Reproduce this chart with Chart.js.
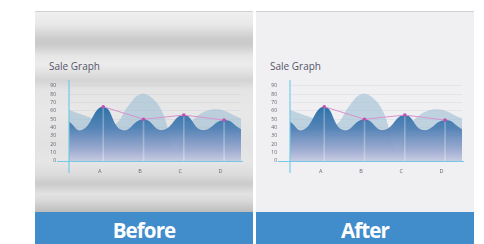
<!DOCTYPE html>
<html>
<head>
<meta charset="utf-8">
<script src="https://cdn.jsdelivr.net/npm/chart.js@4.4.1/dist/chart.umd.min.js"></script>
<style>
  html,body{margin:0;padding:0;background:#ffffff;}
  body{width:484px;height:244px;position:relative;overflow:hidden;font-family:"Open Sans","Noto Sans",sans-serif;}
  .panel{position:absolute;top:11px;width:218px;height:233px;border-top:1px solid #d2d2d6;box-sizing:border-box;overflow:hidden;}
  #p1{left:35px;background:linear-gradient(to bottom,#efefef 0px,#e9e9e9 12px,#cdcdcd 26px,#c9c9c9 32px,#e6e6e6 44px,#ececec 52px,#e2e2e2 60px,#d4d4d4 68px,#e4e4e4 78px,#e8e8e8 100px,#e2e2e2 130px,#e6e6e6 150px,#dcdcdc 162px,#cbcbcb 172px,#e2e2e2 182px,#d6d6d6 190px,#bdbdbd 200px);}
  #p2{left:256px;background:#f0f0f2;}
  .title{position:absolute;left:14px;top:48px;font-size:10px;line-height:12px;color:#555569;}
  .foot{position:absolute;left:0;bottom:0;width:100%;height:32px;background:#418dcc;color:#fff;font-weight:bold;font-size:20.5px;line-height:32px;text-align:center;letter-spacing:-0.9px;padding-top:2px;box-sizing:border-box;}
  .cw{position:absolute;left:0;top:67px;width:218px;height:102px;}
</style>
</head>
<body>
<div class="panel" id="p1">
  <div class="title">Sale Graph</div>
  <div class="cw"><canvas id="c1"></canvas></div>
  <div class="foot">Before</div>
</div>
<div class="panel" id="p2">
  <div class="title">Sale Graph</div>
  <div class="cw"><canvas id="c2"></canvas></div>
  <div class="foot">After</div>
</div>
<script>
// ---- data ----
const categories = ['A', 'B', 'C', 'D'];
const categoryX = [1, 2, 3, 4];
const yTicks = [0, 10, 20, 30, 40, 50, 60, 70, 80, 90];
const pointValues = [65, 50, 55, 49];
const waveX = [0.15, 0.47, 1, 1.47, 2, 2.47, 3, 3.46, 4, 4.42];
const waveY = [47, 37, 65, 37, 50, 37, 55, 37, 49, 38];
const backX = [0.15, 0.68, 1.0, 1.3, 1.62, 1.92, 2.22, 2.5, 2.79, 3.2, 3.78, 4.42];
const backY = [61, 52, 48, 44, 66, 80, 75, 55, 14, 48, 62, 51];

const toXY = (xs, ys) => xs.map((x, i) => ({x: x, y: ys[i]}));

const axisLines = {
  id: 'axisLines',
  afterDatasetsDraw(chart) {
    const {ctx, chartArea, scales} = chart;
    const y0 = scales.y.getPixelForValue(0);
    ctx.save();
    ctx.strokeStyle = 'rgba(110,200,230,0.95)';
    ctx.lineWidth = 1;
    ctx.beginPath();
    ctx.moveTo(chartArea.left - 12, y0 + 0.5);
    ctx.lineTo(chartArea.right + 2, y0 + 0.5);
    ctx.stroke();
    ctx.lineWidth = 1.2;
    ctx.beginPath();
    ctx.moveTo(chartArea.left, chartArea.top);
    ctx.lineTo(chartArea.left, y0 + 12);
    ctx.stroke();
    ctx.restore();
  }
};

function darkFill(context) {
  const chart = context.chart;
  const {chartArea} = chart;
  if (!chartArea) return 'rgba(60,120,175,0.9)';
  const g = chart.ctx.createLinearGradient(0, chartArea.top, 0, chartArea.bottom);
  g.addColorStop(0, 'rgba(20,92,148,0.95)');
  g.addColorStop(0.33, 'rgba(32,106,162,0.95)');
  g.addColorStop(0.6, 'rgba(78,126,180,0.93)');
  g.addColorStop(0.85, 'rgba(150,165,205,0.9)');
  g.addColorStop(1, 'rgba(200,202,226,0.9)');
  return g;
}

function makeChart(id) {
  new Chart(document.getElementById(id), {
    type: 'line',
    data: {
      datasets: [
        {
          label: 'pink',
          data: toXY(categoryX, pointValues),
          borderColor: 'rgba(214,146,206,1)',
          borderWidth: 1,
          pointRadius: 1.8,
          pointBackgroundColor: 'rgba(192,78,172,1)',
          pointBorderWidth: 0,
          fill: false,
          tension: 0,
          order: 1
        },
        {
          type: 'bar',
          label: 'drop',
          data: toXY(categoryX, pointValues),
          backgroundColor: 'rgba(255,255,255,0.28)',
          barThickness: 1,
          order: 2
        },
        {
          label: 'wave',
          data: toXY(waveX, waveY),
          borderWidth: 0,
          borderColor: 'rgba(0,0,0,0)',
          backgroundColor: darkFill,
          fill: 'origin',
          pointRadius: 0,
          tension: 0.48,
          order: 3
        },
        {
          label: 'back',
          data: toXY(backX, backY),
          borderWidth: 0,
          borderColor: 'rgba(0,0,0,0)',
          backgroundColor: 'rgba(150,186,210,0.55)',
          fill: 'origin',
          pointRadius: 0,
          tension: 0.4,
          order: 4
        }
      ]
    },
    options: {
      responsive: true,
      maintainAspectRatio: false,
      animation: false,
      events: [],
      layout: {autoPadding: false, padding: {top: 1, right: 12, left: 0, bottom: 0}},
      plugins: {legend: {display: false}, tooltip: {enabled: false}},
      scales: {
        x: {
          type: 'linear',
          min: 0.15,
          max: 4.42,
          offset: false,
          grid: {display: false, drawTicks: false},
          border: {display: false},
          afterBuildTicks: s => { s.ticks = categoryX.map(v => ({value: v})); },
          ticks: {
            callback: (v) => categories[categoryX.indexOf(v)] || '',
            font: {size: 5.5, family: 'Open Sans'},
            color: '#666a78',
            padding: 7,
            labelOffset: -3.5,
            maxRotation: 0,
            autoSkip: false
          },
          afterFit: s => { s.height = 20; s.paddingLeft = 0; s.paddingRight = 0; }
        },
        y: {
          min: 0,
          max: 97,
          grid: {color: 'rgba(200,200,215,0.45)', lineWidth: 0.7, drawTicks: false},
          border: {display: false},
          afterBuildTicks: s => { s.ticks = yTicks.map(v => ({value: v})); },
          ticks: {
            font: {size: 5, family: 'Open Sans'},
            color: '#5e6070',
            padding: 13,
            autoSkip: false
          },
          afterFit: s => { s.width = 34; s.paddingTop = 0; s.paddingBottom = 0; }
        }
      }
    },
    plugins: [axisLines]
  });
}
makeChart('c1');
makeChart('c2');
</script>
</body>
</html>
